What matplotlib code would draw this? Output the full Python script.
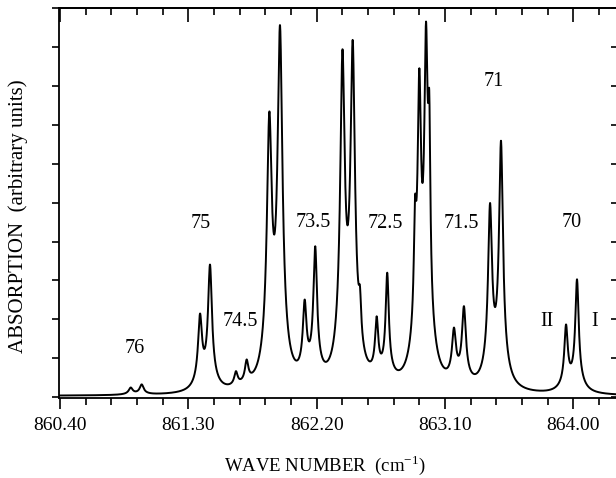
import numpy as np
import matplotlib.pyplot as plt
from matplotlib.ticker import MultipleLocator, FixedLocator, NullFormatter

plt.rcParams['font.family'] = 'Liberation Serif'
plt.rcParams['mathtext.fontset'] = 'custom'
plt.rcParams['mathtext.rm'] = 'Liberation Serif'

# band centres (cm-1), peak heights (y tick units) and half widths
peak_pos = [860.896, 860.973, 861.382, 861.452, 861.634, 861.709,
            861.868, 861.943, 862.116, 862.190, 862.381, 862.453, 862.504,
            862.621, 862.695, 862.890, 862.920, 862.967, 862.990,
            863.163, 863.233, 863.416, 863.493, 863.949, 864.026]
peak_height = [0.25, 0.33, 2.15, 3.41, 0.67, 0.97,
               7.34, 9.56, 2.51, 3.88, 8.94, 9.18, 2.85,
               2.08, 3.20, 5.16, 8.45, 9.65, 7.85,
               1.79, 2.34, 4.99, 6.59, 1.87, 3.03]
peak_hwhm = [0.016, 0.016, 0.016, 0.016, 0.014, 0.014,
             0.0195, 0.0195, 0.015, 0.015, 0.018, 0.018, 0.010,
             0.013, 0.013, 0.010, 0.014, 0.014, 0.009,
             0.016, 0.016, 0.016, 0.016, 0.014, 0.014]
baseline = 0.03
wing_frac = 0.13    # share of each line in its broad pedestal
wing_hwhm = 0.05

# band labels (J values) and polarisation marks
band_text = ['76', '75', '74.5', '73.5', '72.5', '71.5', '71', '70', 'II', 'I']
band_x = [860.926, 861.389, 861.662, 862.174, 862.685, 863.212, 863.443, 863.990, 863.813, 864.152]
band_y = [1.26, 4.46, 1.94, 4.49, 4.46, 4.46, 8.11, 4.49, 1.94, 1.94]


def lorentz(x, x0, g):
    return 1.0 / (1.0 + ((x - x0) / g) ** 2)


def line_shape(x, x0, g):
    return (1 - wing_frac) * lorentz(x, x0, g) + wing_frac * lorentz(x, x0, wing_hwhm)


pos = np.array(peak_pos)
hgt = np.array(peak_height)
wid = np.array(peak_hwhm)

# amplitudes so that the summed profile passes through the read peak heights
M = line_shape(pos[:, None], pos[None, :], wid[None, :])
amp = np.linalg.solve(M, hgt - baseline)

wn = np.linspace(860.3895, 864.303, 4000)
absorb = baseline + (amp[None, :] * line_shape(wn[:, None], pos[None, :], wid[None, :])).sum(axis=1)

fig = plt.figure(figsize=(6.16, 4.78), dpi=100)
ax = fig.add_axes([58.5 / 616, 80 / 478, 558 / 616, 390 / 478])
ax.plot(wn, absorb, color='black', lw=1.4)

ax.set_xlim(860.3895, 864.303)
ax.set_ylim(-0.02, 10)

ax.xaxis.set_major_locator(FixedLocator([860.40, 861.30, 862.20, 863.10, 864.00]))
ax.xaxis.set_minor_locator(FixedLocator(np.arange(860.40, 864.30, 0.18)))
ax.set_xticklabels(['860.40', '861.30', '862.20', '863.10', '864.00'], fontsize=14)
ax.yaxis.set_major_locator(MultipleLocator(1))
ax.yaxis.set_major_formatter(NullFormatter())
ax.tick_params(axis='x', which='major', direction='out', length=8, width=1.2, pad=6)
ax.tick_params(axis='x', which='minor', direction='out', length=5, width=1.2)
ax.tick_params(axis='y', which='major', direction='out', length=5, width=1.2)

for s in ['left', 'bottom', 'top']:
    ax.spines[s].set_linewidth(1.3)
ax.spines['right'].set_visible(False)

top = ax.secondary_xaxis('top')
top.xaxis.set_major_locator(FixedLocator([860.40, 861.30, 862.20, 863.10, 864.00]))
top.xaxis.set_minor_locator(FixedLocator(np.arange(860.40, 864.30, 0.18)))
top.xaxis.set_major_formatter(NullFormatter())
top.tick_params(which='major', direction='in', length=10, width=1.2)
top.tick_params(which='minor', direction='in', length=5, width=1.2)
top.spines['top'].set_linewidth(1.3)

right = ax.secondary_yaxis('right')
right.yaxis.set_major_locator(MultipleLocator(1))
right.yaxis.set_major_formatter(NullFormatter())
right.tick_params(direction='in', length=4, width=1.2)
right.spines['right'].set_visible(False)

for t, x, y in zip(band_text, band_x, band_y):
    ax.text(x, y, t, ha='center', va='center', fontsize=14.5)

fig.text(325 / 616, 1 - 465 / 478, r'WAVE NUMBER  (cm$^{\mathrm{-1}}$)',
         ha='center', va='center', fontsize=13.5)
fig.text(18 / 616, 1 - 216 / 478, 'ABSORPTION  (arbitrary units)',
         ha='center', va='center', rotation=90, fontsize=15)

fig.savefig('out.png', dpi=100)
